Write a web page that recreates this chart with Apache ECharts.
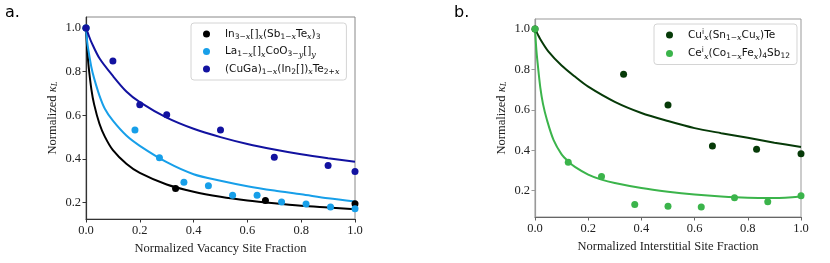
<!DOCTYPE html>
<html><head><meta charset="utf-8">
<script src="https://cdn.jsdelivr.net/npm/echarts@6/dist/echarts.min.js"></script>
<style>html,body{margin:0;padding:0;background:#fff}#c{width:830px;height:263px}</style>
</head><body><div id="c"></div>
<script>
// ---- tick labels ----
const xTicks = [0, 0.2, 0.4, 0.6, 0.8, 1.0];
const yTicks = [0.2, 0.4, 0.6, 0.8, 1.0];

// ---- panel a: vacancy data points ----
const inSbTePts = [[0,1.0],[0.333,0.265],[0.667,0.21],[1.0,0.195]];
const laCoOPts = [[0,1.0],[0.182,0.532],[0.273,0.405],[0.364,0.293],[0.455,0.277],[0.545,0.234],[0.636,0.234],[0.727,0.203],[0.818,0.194],[0.909,0.18],[1.0,0.172]];
const cuGaPts = [[0,1.0],[0.1,0.849],[0.2,0.648],[0.3,0.602],[0.5,0.532],[0.7,0.408],[0.9,0.37],[1.0,0.342]];

// ---- panel a: fitted curves ----
const inSbTeFit = [[0,1.0],[0.005,0.895],[0.01,0.821],[0.02,0.719],[0.03,0.651],[0.05,0.561],[0.07,0.502],[0.1,0.44],[0.15,0.378],[0.2,0.336],[0.3,0.283],[0.4,0.25],[0.5,0.227],[0.6,0.21],[0.7,0.197],[0.8,0.186],[0.9,0.178],[1.0,0.17]];
const laCoOFit = [[0,1.0],[0.005,0.93],[0.01,0.89],[0.02,0.82],[0.03,0.77],[0.05,0.69],[0.07,0.63],[0.1,0.575],[0.15,0.507],[0.2,0.46],[0.3,0.385],[0.4,0.33],[0.5,0.30],[0.6,0.275],[0.7,0.255],[0.8,0.238],[0.9,0.22],[1.0,0.205]];
const cuGaFit = [[0,1.0],[0.01,0.966],[0.02,0.935],[0.05,0.861],[0.1,0.78],[0.15,0.709],[0.2,0.66],[0.3,0.589],[0.4,0.538],[0.5,0.50],[0.6,0.4685],[0.7,0.443],[0.8,0.421],[0.9,0.403],[1.0,0.387]];

// ---- panel b: interstitial data points ----
const cuSnTePts = [[0,1.0],[0.333,0.777],[0.5,0.624],[0.667,0.421],[0.833,0.405],[1.0,0.383]];
const ceCoSbPts = [[0,1.0],[0.125,0.341],[0.25,0.27],[0.375,0.132],[0.5,0.123],[0.625,0.12],[0.75,0.165],[0.875,0.145],[1.0,0.175]];

// ---- panel b: fitted curves ----
const cuSnTeFit = [[0,1.0],[0.01,0.975],[0.02,0.95],[0.05,0.89],[0.1,0.82],[0.15,0.765],[0.2,0.715],[0.3,0.64],[0.4,0.585],[0.5,0.545],[0.6,0.51],[0.7,0.485],[0.8,0.462],[0.9,0.438],[1.0,0.416]];
const ceCoSbFit = [[0,1.0],[0.005,0.90],[0.01,0.83],[0.02,0.71],[0.03,0.63],[0.045,0.55],[0.07,0.45],[0.1,0.38],[0.125,0.345],[0.15,0.318],[0.2,0.28],[0.25,0.255],[0.3,0.238],[0.4,0.213],[0.5,0.195],[0.6,0.181],[0.7,0.171],[0.8,0.165],[0.9,0.164],[1.0,0.172]];

const C = {black:'#000000', lblue:'#179fe9', dblue:'#1212a0', dgreen:'#063a08', lgreen:'#3bb44b'};

const legendNames = {
  'In': '{n0|In}{s|3−}{si|x}{n|[]}{si|x}{n|(Sb}{s|1−}{si|x}{n|Te}{si|x}{n|)}{s|3}',
  'La': '{n0|La}{s|1−}{si|x}{n|[]}{si|x}{n|CoO}{s|3−}{si|y}{n|[]}{si|y}',
  'CuGa': '{n0|(CuGa)}{s|1−}{si|x}{n|(In}{s|2}{n|[])}{si|x}{n|Te}{s|2+}{si|x}',
  'Cu': '{n0|Cu}{sup|i}{si|x}{n|(Sn}{s|1−}{si|x}{n|Cu}{si|x}{n|)Te}',
  'Ce': '{n0|Ce}{sup|i}{si|x}{n|(Co}{s|1−}{si|x}{n|Fe}{si|x}{n|)}{s|4}{n|Sb}{s|12}'
};
const legRich = {
  n0: {fontFamily:'DejaVu Sans', fontSize:10.5, color:'#111', lineHeight:14, padding:[0,0,0,10]},
  n: {fontFamily:'DejaVu Sans', fontSize:10.5, color:'#111', lineHeight:14},
  s: {fontFamily:'DejaVu Sans', fontSize:7.5, color:'#111', lineHeight:7, verticalAlign:'bottom'},
  si: {fontFamily:'DejaVu Serif', fontStyle:'italic', fontSize:8, color:'#111', lineHeight:7, verticalAlign:'bottom'},
  sup: {fontFamily:'DejaVu Sans', fontSize:7.5, color:'#111', lineHeight:7, verticalAlign:'top'}
};

const serif = 'Liberation Serif';
function xAx(idx, name, spineColor){
  return {type:'value', gridIndex:idx, min:0, max:1, interval:0.2,
    name:name, nameLocation:'middle', nameGap:15,
    nameTextStyle:{fontFamily:serif, fontSize:12.5, color:'#222'},
    axisLine:{show:true, lineStyle:{color:spineColor, width:1.2}},
    axisTick:{show:true, inside:false, length:3.5, lineStyle:{color:spineColor}, customValues:xTicks},
    axisLabel:{fontFamily:serif, fontSize:12.5, color:'#222', margin:5, customValues:xTicks, formatter:v=>v.toFixed(1)},
    splitLine:{show:false}};
}
function yAx(idx, min, max, spineColor){
  return {type:'value', gridIndex:idx, min:min, max:max,
    name:'Normalized {k|κ}{L|L}', nameLocation:'middle', nameGap:27,
    nameTextStyle:{fontFamily:serif, fontSize:12.5, color:'#222',
      rich:{k:{fontFamily:serif, fontStyle:'italic', fontSize:12.5, color:'#222'},
            L:{fontFamily:serif, fontStyle:'italic', fontSize:8.5, color:'#222', lineHeight:8, verticalAlign:'bottom'}}},
    axisLine:{show:true, lineStyle:{color:spineColor, width:1.2}},
    axisTick:{show:true, inside:false, length:3.5, lineStyle:{color:spineColor}, customValues:yTicks},
    axisLabel:{fontFamily:serif, fontSize:12.5, color:'#222', margin:5, customValues:yTicks, formatter:v=>v.toFixed(1)},
    splitLine:{show:false}};
}
function fit(name, data, color, xi){
  return {type:'line', name:name, xAxisIndex:xi, yAxisIndex:xi, data:data, smooth:0.3,
    showSymbol:false, symbol:'none', lineStyle:{color:color, width:2}, z:2, silent:true};
}
function pts(name, data, color, xi){
  return {type:'scatter', name:name, xAxisIndex:xi, yAxisIndex:xi, data:data, symbol:'circle',
    symbolSize:7, itemStyle:{color:color, opacity:1}, clip:false, z:3};
}
function leg(names, left, top, gap){
  return {data:names, left:left, top:top, orient:'vertical', icon:'circle', itemWidth:7, itemHeight:7,
    itemGap:gap, padding:[4,7,4,12], backgroundColor:'#ffffff', borderColor:'#d4d4d4', borderWidth:1, borderRadius:3,
    formatter:n=>legendNames[n], textStyle:{rich:legRich, fontSize:10.5, lineHeight:14}, selectedMode:false};
}

const chart = echarts.init(document.getElementById('c'), null, {renderer:'canvas'});
chart.setOption({
  animation:false,
  backgroundColor:'#fff',
  grid:[
    {left:86, top:17, width:269, height:202, show:true, borderColor:'#888', borderWidth:1, backgroundColor:'transparent'},
    {left:535, top:19, width:266, height:198, show:true, borderColor:'#999', borderWidth:1, backgroundColor:'transparent'}
  ],
  xAxis:[xAx(0,'Normalized Vacancy Site Fraction','#333'), xAx(1,'Normalized Interstitial Site Fraction','#666')],
  yAxis:[yAx(0,0.125,1.05,'#333'), yAx(1,0.07,1.05,'#999')],
  legend:[leg(['In','La','CuGa'],191,23,3.5), leg(['Cu','Ce'],654,24,4.5)],
  graphic:[
    {type:'text', left:5, top:5, style:{text:'a.', fontFamily:'DejaVu Sans', fontSize:16, fill:'#000'}},
    {type:'text', left:454, top:5, style:{text:'b.', fontFamily:'DejaVu Sans', fontSize:16, fill:'#000'}}
  ],
  series:[
    fit('In fit', inSbTeFit, C.black, 0),
    fit('La fit', laCoOFit, C.lblue, 0),
    fit('CuGa fit', cuGaFit, C.dblue, 0),
    pts('In', inSbTePts, C.black, 0),
    pts('La', laCoOPts, C.lblue, 0),
    pts('CuGa', cuGaPts, C.dblue, 0),
    fit('Cu fit', cuSnTeFit, C.dgreen, 1),
    fit('Ce fit', ceCoSbFit, C.lgreen, 1),
    pts('Cu', cuSnTePts, C.dgreen, 1),
    pts('Ce', ceCoSbPts, C.lgreen, 1)
  ]
});
</script>
</body></html>
